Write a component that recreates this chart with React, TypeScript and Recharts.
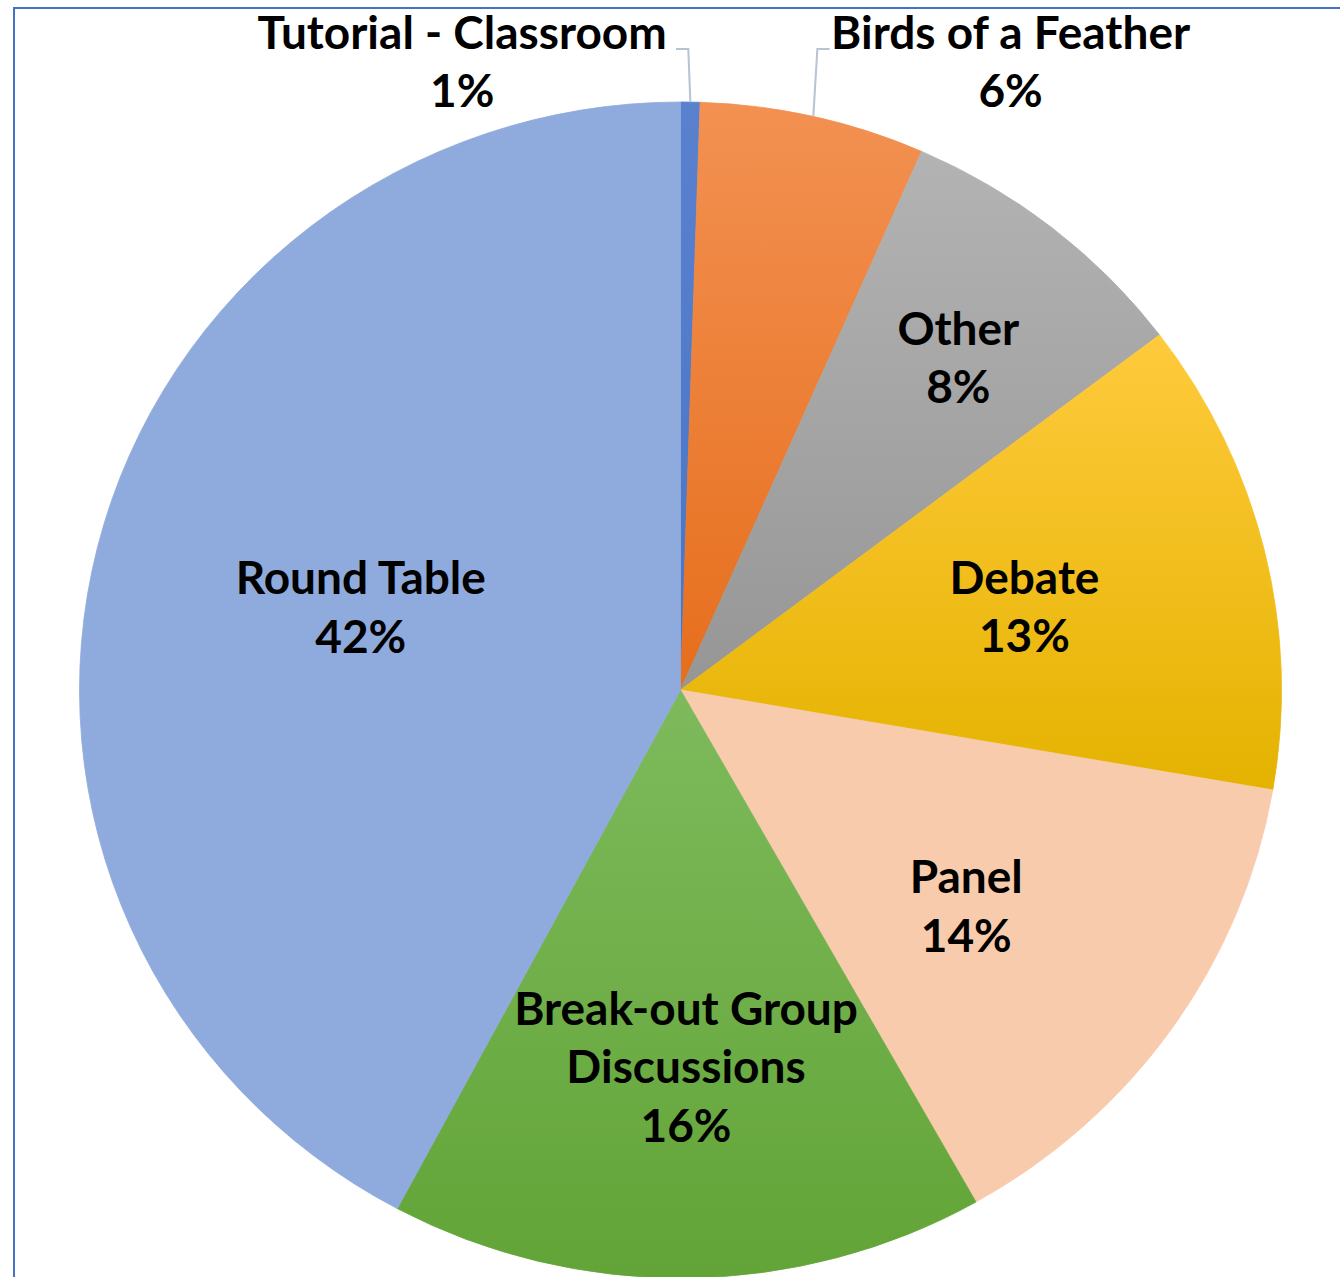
import React from 'react';
import { PieChart, Pie, Cell } from 'recharts';

// ---- data ----
const categories = [
  'Tutorial - Classroom',
  'Birds of a Feather',
  'Other',
  'Debate',
  'Panel',
  'Break-out Group Discussions',
  'Round Table',
];
const shares = [0.52, 6.05, 8.11, 13.04, 14.1, 15.99, 42.19];

const data = categories.map((name, i) => ({ name, value: shares[i] }));

// ---- styles ----
const fills = [
  { top: '#5A81CE', bottom: '#4874C6' },
  { top: '#F39152', bottom: '#E66E1C' },
  { top: '#B3B3B3', bottom: '#969696' },
  { top: '#FFCA3C', bottom: '#E4B300' },
  { top: '#F8CBAD', bottom: '#F8CBAD' },
  { top: '#7EBA5C', bottom: '#62A437' },
  { top: '#8FAADC', bottom: '#8FAADC' },
];

const SX = 601 / 588;
const W = 1311;
const H = 1277;
const CX = 665.8;
const CY = 690;
const R = 588;
const FONT = 'Lato, Carlito, Calibri, sans-serif';
const FS = 45;
const CAP = 0.7165 * FS;
const LH = 58.5;
const RAD = Math.PI / 180;

// label layout (radius factor along the slice's mid angle, plus a small nudge)
const insideRadius: Record<string, number> = {
  Other: 0.728,
  Debate: 0.589,
  Panel: 0.6,
  'Break-out Group Discussions': 0.643,
  'Round Table': 0.552,
};
const nudge: Record<string, { dx: number; dy: number }> = {
  Other: { dx: 6.8, dy: 4 },
  Debate: { dx: 0, dy: -1 },
  Panel: { dx: -8.8, dy: 13 },
  'Break-out Group Discussions': { dx: 1, dy: -1 },
  'Round Table': { dx: 2, dy: -4 },
};
const outsideSide: Record<string, number> = {
  'Tutorial - Classroom': -1,
  'Birds of a Feather': 1,
};
const elbowShift: Record<string, number> = {
  'Tutorial - Classroom': -2,
  'Birds of a Feather': 4,
};

const polar = (cx: number, cy: number, r: number, a: number) => ({
  x: cx + r * Math.cos(-a * RAD),
  y: cy + r * Math.sin(-a * RAD),
});

let ctx: CanvasRenderingContext2D | null = null;
function measure(s: string): number {
  if (!ctx) ctx = document.createElement('canvas').getContext('2d');
  if (!ctx) return s.length * FS * 0.5;
  ctx.font = `bold ${FS}px ${FONT}`;
  return ctx.measureText(s).width;
}

function wrap(s: string, max = 16): string[] {
  const words = s.split(' ');
  const out: string[] = [];
  let cur = '';
  for (const w of words) {
    const next = cur ? cur + ' ' + w : w;
    if (next.length > max && cur) {
      out.push(cur);
      cur = w;
    } else cur = next;
  }
  if (cur) out.push(cur);
  return out;
}

const textStyle = {
  fontFamily: FONT,
  fontSize: FS,
  fontWeight: 700,
  fill: '#000000',
};

function renderLabel(props: any) {
  const { cx, cy, midAngle, outerRadius, percent, index } = props;
  const name = categories[index];
  const pct = `${Math.round(percent * 100)}%`;
  if (name in outsideSide) {
    const side = outsideSide[name];
    const p = polar(cx, cy, outerRadius, midAngle);
    const ex = p.x + elbowShift[name];
    const ey = cy - outerRadius - 53;
    const lx = ex + side * 12;
    const w = measure(name);
    const tc = side < 0 ? lx - 9 - w / 2 : lx + 1 + w / 2;
    return (
      <g key={`lbl-${index}`}>
        <polyline
          points={`${p.x},${p.y} ${ex},${ey} ${lx},${ey}`}
          fill="none"
          stroke="#B8C3D3"
          strokeWidth={2}
        />
        <text x={tc} y={ey} textAnchor="middle" style={textStyle}>
          {name}
        </text>
        <text x={tc} y={ey + LH} textAnchor="middle" style={textStyle}>
          {pct}
        </text>
      </g>
    );
  }
  const lines = [...wrap(name), pct];
  const c = polar(cx, cy, outerRadius * (insideRadius[name] ?? 0.6), midAngle);
  const nd = nudge[name] ?? { dx: 0, dy: 0 };
  const x = c.x + nd.dx;
  const y = c.y + nd.dy;
  const n = lines.length;
  return (
    <text key={`lbl-${index}`} textAnchor="middle" style={textStyle}>
      {lines.map((ln, i) => (
        <tspan key={i} x={x} y={y + (i - (n - 1) / 2) * LH + CAP / 2}>
          {ln}
        </tspan>
      ))}
    </text>
  );
}

export default function App() {
  return (
    <div
      style={{
        position: 'absolute',
        left: 0,
        top: 0,
        width: 1340,
        height: 1277,
        overflow: 'hidden',
        background: '#ffffff',
      }}
    >
      <div
        style={{
          position: 'absolute',
          left: 13,
          top: 7,
          width: 1400,
          height: 1400,
          borderTop: '2px solid #4472C4',
          borderLeft: '2px solid #4472C4',
        }}
      />
      <div
        style={{
          position: 'absolute',
          left: 0,
          top: 0,
          transform: `scaleX(${SX})`,
          transformOrigin: '0 0',
        }}
      >
        <PieChart width={W} height={H} margin={{ top: 0, right: 0, bottom: 0, left: 0 }}>
          <defs>
            {fills.map((f, i) => (
              <linearGradient key={i} id={`sliceFill${i}`} x1="0" y1="0" x2="0" y2="1">
                <stop offset="0%" stopColor={f.top} />
                <stop offset="100%" stopColor={f.bottom} />
              </linearGradient>
            ))}
          </defs>
          <Pie
            data={data}
            dataKey="value"
            nameKey="name"
            cx={CX}
            cy={CY}
            innerRadius={0}
            outerRadius={R}
            startAngle={90}
            endAngle={-270}
            isAnimationActive={false}
            label={renderLabel}
            labelLine={false}
          >
            {data.map((d, i) => (
              <Cell
                key={d.name}
                fill={`url(#sliceFill${i})`}
                stroke={`url(#sliceFill${i})`}
                strokeWidth={0.8}
              />
            ))}
          </Pie>
        </PieChart>
      </div>
    </div>
  );
}
